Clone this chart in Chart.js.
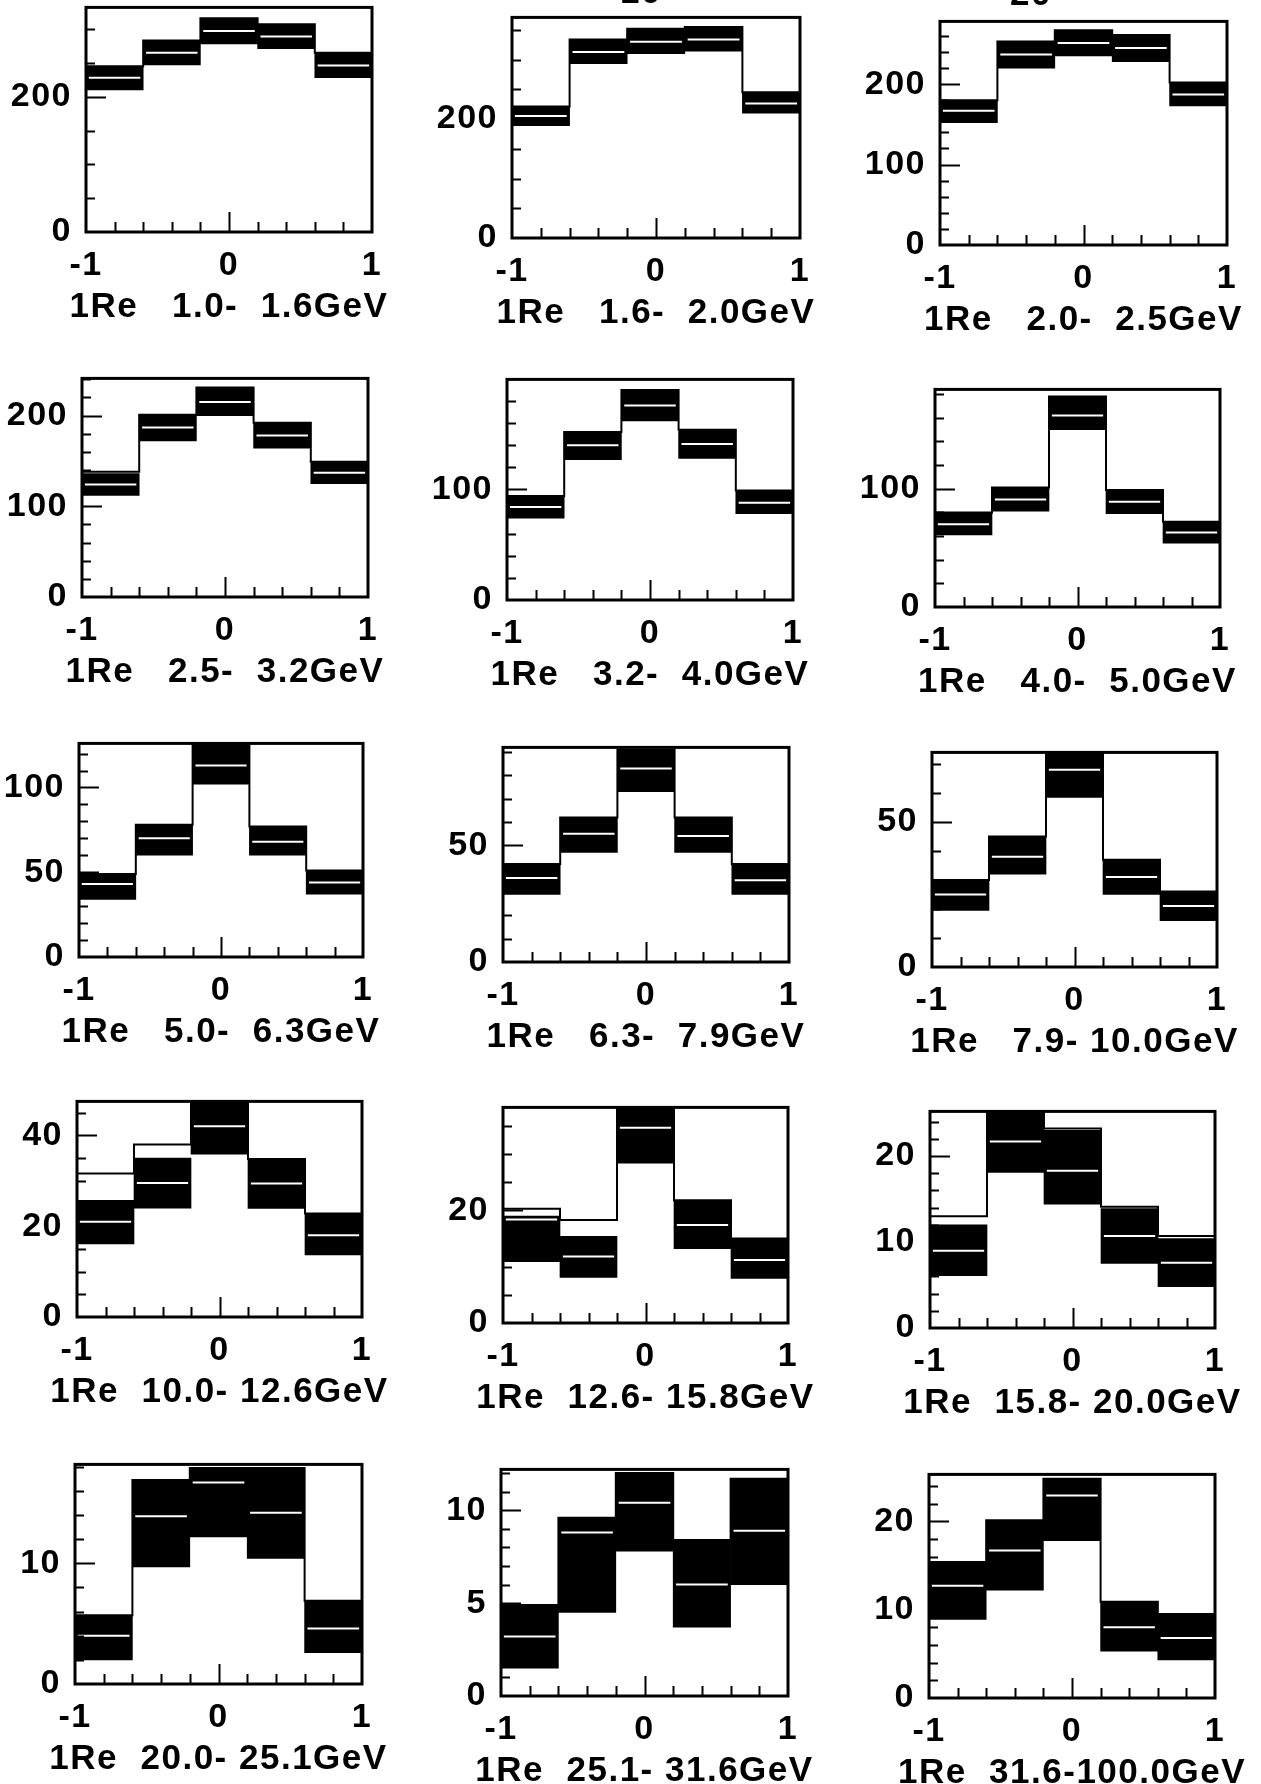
<!DOCTYPE html>
<html>
<head>
<meta charset="utf-8">
<script src="https://cdn.jsdelivr.net/npm/chart.js@4"></script>
<style>
  html, body { margin: 0; padding: 0; background: #fff; }
  body { position: relative; width: 1261px; height: 1784px; overflow: hidden; }
  .panel { position: absolute; }
  .label {
    position: absolute; width: 500px; text-align: center; color: #000;
    font: bold 35px "Liberation Sans", Arial, sans-serif;
    letter-spacing: 1.5px; line-height: 40px; white-space: pre;
  }
</style>
</head>
<body>
<script>
// energy range of each panel (GeV)
const eLow  = [1.0, 1.6, 2.0, 2.5, 3.2, 4.0, 5.0, 6.3, 7.9, 10.0, 12.6, 15.8, 20.0, 25.1, 31.6];
const eHigh = [1.6, 2.0, 2.5, 3.2, 4.0, 5.0, 6.3, 7.9, 10.0, 12.6, 15.8, 20.0, 25.1, 31.6, 100.0];

// cos(theta) bin edges, 5 bins
const binEdges = [-1, -0.6, -0.2, 0.2, 0.6, 1];

// expectation histogram (outline)
const expected = [
  [245, 283, 316, 307, 265],
  [221, 334, 352, 355, 245],
  [180, 253, 267, 261, 202],
  [138, 201, 231, 192, 149],
  [94, 152, 190, 154, 99],
  [80, 101, 178, 99, 72],
  [49, 78, 125, 77, 51],
  [42, 62, 91, 62, 42],
  [30, 45, 74, 37, 26],
  [31.6, 38, 47.3, 34.8, 22.8],
  [20.3, 18.3, 38.3, 21.8, 15],
  [13, 25.2, 23.2, 14.1, 10.7],
  [5.7, 16.9, 17.9, 17.9, 6.9],
  [4.9, 9.6, 12, 8.4, 11.7],
  [15.4, 20.1, 24.8, 10.9, 9.5]
];

// black band: lower and upper edge
const bandLow = [
  [210, 247, 278, 271, 228],
  [189, 293, 310, 314, 210],
  [152, 220, 235, 228, 173],
  [112, 172, 200, 164, 125],
  [74, 127, 162, 128, 78],
  [61, 81, 150, 79, 54],
  [34, 60, 102, 60, 37],
  [29, 47, 73, 47, 29],
  [19.5, 32, 58.5, 25, 16],
  [16.1, 24, 35.9, 23.9, 13.7],
  [10.9, 8.1, 28.4, 13.2, 7.9],
  [6.1, 18.1, 14.4, 7.5, 4.8],
  [2, 9.7, 12.2, 10.4, 2.6],
  [1.5, 4.5, 7.8, 3.7, 6],
  [8.9, 12.2, 17.8, 5.3, 4.3]
];
const bandHigh = [
  [245, 283, 316, 307, 265],
  [221, 334, 352, 355, 245],
  [180, 253, 267, 261, 202],
  [136, 201, 231, 192, 149],
  [94, 152, 190, 154, 99],
  [80, 101, 178, 99, 72],
  [49, 78, 125, 77, 51],
  [42, 62, 91, 62, 42],
  [30, 45, 74, 37, 26],
  [25.7, 35, 47.3, 34.8, 22.6],
  [19, 15.4, 38.3, 21.8, 15],
  [12, 25.2, 23, 13.9, 10.4],
  [5.7, 16.9, 17.9, 17.9, 6.9],
  [4.9, 9.6, 12, 8.4, 11.7],
  [15.4, 20.1, 24.8, 10.9, 9.5]
];
// white line inside the band
const central = [
  [228, 265, 297, 289, 246],
  [205, 313, 330, 334, 226],
  [167, 237, 251, 245, 187],
  [124, 187, 215, 178, 137],
  [84, 140, 176, 141, 88],
  [70, 91, 162, 89, 63],
  [43, 70, 113, 68, 44],
  [36, 55, 83, 54, 35],
  [25, 38, 68, 31, 21],
  [21, 29.5, 42, 29.4, 18],
  [18.4, 11.8, 34.7, 17.4, 11.2],
  [9, 21.7, 18.3, 10.7, 7.6],
  [4, 13.9, 16.7, 14.2, 4.6],
  [3.2, 8.8, 10.4, 6, 8.9],
  [12.7, 16.7, 22.9, 8, 6.8]
];

// y range and tick steps
const yMax   = [332, 371, 278, 241, 199.5, 184, 126, 92, 74, 47.5, 38.3, 25.2, 18.2, 12.2, 25.3];
const yMajor = [200, 200, 100, 100, 100, 100, 50, 50, 50, 20, 20, 10, 10, 5, 10];
const yMinor = [50, 50, 20, 20, 20, 20, 10, 10, 10, 5, 5, 2, 2, 1, 2];

// plot frames on the page: left, top, right, bottom
const frames = [
  [86, 3, 372, 232], [512, 13, 800, 238], [940, 17, 1227, 245],
  [82, 374, 368, 597], [507, 375, 793, 600], [935, 385, 1220, 607],
  [79, 739, 363, 957], [503, 743, 789, 962], [932, 748, 1217, 967],
  [77, 1097, 362, 1317], [503, 1103, 788, 1323], [930, 1107, 1215, 1328],
  [75, 1460, 362, 1684], [501, 1465, 788, 1696], [929, 1470, 1215, 1698]
];

const YW = 90, XH = 60, PT = 30, PR = 24;
const FONT = '"Liberation Sans", Arial, sans-serif';
Chart.defaults.font.family = FONT;
Chart.defaults.color = '#000';

const pad = (s, n) => (' '.repeat(n) + s).slice(-n);

// box frame with inward ticks
const frameTicks = {
  id: 'frameTicks',
  beforeDraw(chart) { chart.ctx.letterSpacing = '1.5px'; },
  afterDatasetsDraw(chart, args, opts) {
    const {ctx, chartArea: a, scales: {x, y}} = chart;
    ctx.save();
    ctx.strokeStyle = '#000';
    ctx.lineWidth = 2;
    ctx.beginPath();
    for (let k = 1; k * opts.minor < y.max; k++) {
      const v = k * opts.minor;
      const py = Math.round(y.getPixelForValue(v)) + 0.5;
      const len = v % opts.major === 0 ? 20 : 9;
      ctx.moveTo(a.left, py);
      ctx.lineTo(a.left + len, py);
    }
    for (let k = 1; k < 10; k++) {
      const px = Math.round(x.getPixelForValue(-1 + k * 0.2)) + 0.5;
      const len = k === 5 ? 20 : 10;
      ctx.moveTo(px, a.bottom);
      ctx.lineTo(px, a.bottom - len);
    }
    ctx.stroke();
    ctx.lineWidth = 3;
    ctx.strokeRect(a.left, a.top, a.right - a.left, a.bottom - a.top);
    ctx.restore();
  }
};

const centres = binEdges.slice(0, 5).map((e, j) => (e + binEdges[j + 1]) / 2);

frames.forEach(([l, t, r, b], i) => {
  const w = r - l, h = b - t;
  const box = document.createElement('div');
  box.className = 'panel';
  box.style.left = (l - YW) + 'px';
  box.style.top = (t - PT) + 'px';
  const canvas = document.createElement('canvas');
  canvas.width = YW + w + PR;
  canvas.height = PT + h + XH;
  box.appendChild(canvas);
  document.body.appendChild(box);

  const label = document.createElement('div');
  label.className = 'label';
  label.style.left = ((l + r) / 2 - 250) + 'px';
  label.style.top = (b + 53) + 'px';
  label.textContent = '1Re ' + pad(eLow[i].toFixed(1), 5) + '-' + pad(eHigh[i].toFixed(1), 5) + 'GeV';
  document.body.appendChild(label);

  const outline = expected[i].map((v, j) => ({x: binEdges[j], y: v}));
  outline.push({x: 1, y: expected[i][4]});
  const whiteLine = [];
  central[i].forEach((v, j) => {
    whiteLine.push({x: binEdges[j] + 0.02, y: v}, {x: binEdges[j + 1] - 0.02, y: v}, {x: centres[j], y: null});
  });
  const band = bandLow[i].map((lo, j) => ({x: centres[j], y: [lo, bandHigh[i][j]]}));

  new Chart(canvas, {
    type: 'bar',
    data: {
      datasets: [
        {type: 'line', data: outline, stepped: 'before', borderColor: '#000', borderWidth: 2,
         pointRadius: 0, fill: false, order: 0},
        {type: 'line', data: whiteLine, borderColor: '#fff', borderWidth: 2,
         pointRadius: 0, fill: false, spanGaps: false, order: 1},
        {type: 'bar', data: band, backgroundColor: '#000', borderWidth: 0,
         barPercentage: 1, categoryPercentage: 1, order: 2}
      ]
    },
    options: {
      responsive: false,
      animation: false,
      events: [],
      layout: {padding: {top: PT, right: PR, left: 0, bottom: 0}},
      plugins: {
        legend: {display: false},
        tooltip: {enabled: false},
        frameTicks: {major: yMajor[i], minor: yMinor[i]}
      },
      scales: {
        x: {
          type: 'linear', min: -1, max: 1, offset: false,
          grid: {display: false, drawTicks: false}, border: {display: false},
          ticks: {stepSize: 1, padding: 13, maxRotation: 0, autoSkip: false,
                  font: {size: 34, weight: 'bold'}, color: '#000', callback: v => String(v)},
          afterFit: s => { s.height = XH; }
        },
        y: {
          type: 'linear', min: 0, max: yMax[i],
          grid: {display: false, drawTicks: false}, border: {display: false},
          ticks: {padding: 14, autoSkip: false,
                  font: {size: 34, weight: 'bold'}, color: '#000', callback: v => String(v)},
          afterBuildTicks: s => {
            const ticks = [];
            for (let v = 0; v <= yMax[i]; v += yMajor[i]) ticks.push({value: v});
            s.ticks = ticks;
          },
          afterFit: s => { s.width = YW; }
        }
      }
    },
    plugins: [frameTicks]
  });
});

// bottoms of the labels cut off at the top edge
[['10', 641, -29], ['20', 1031, -27]].forEach(([txt, cx, top]) => {
  const d = document.createElement('div');
  d.className = 'label';
  d.style.left = (cx - 250) + 'px';
  d.style.top = top + 'px';
  d.textContent = txt;
  document.body.appendChild(d);
});
</script>
</body>
</html>
